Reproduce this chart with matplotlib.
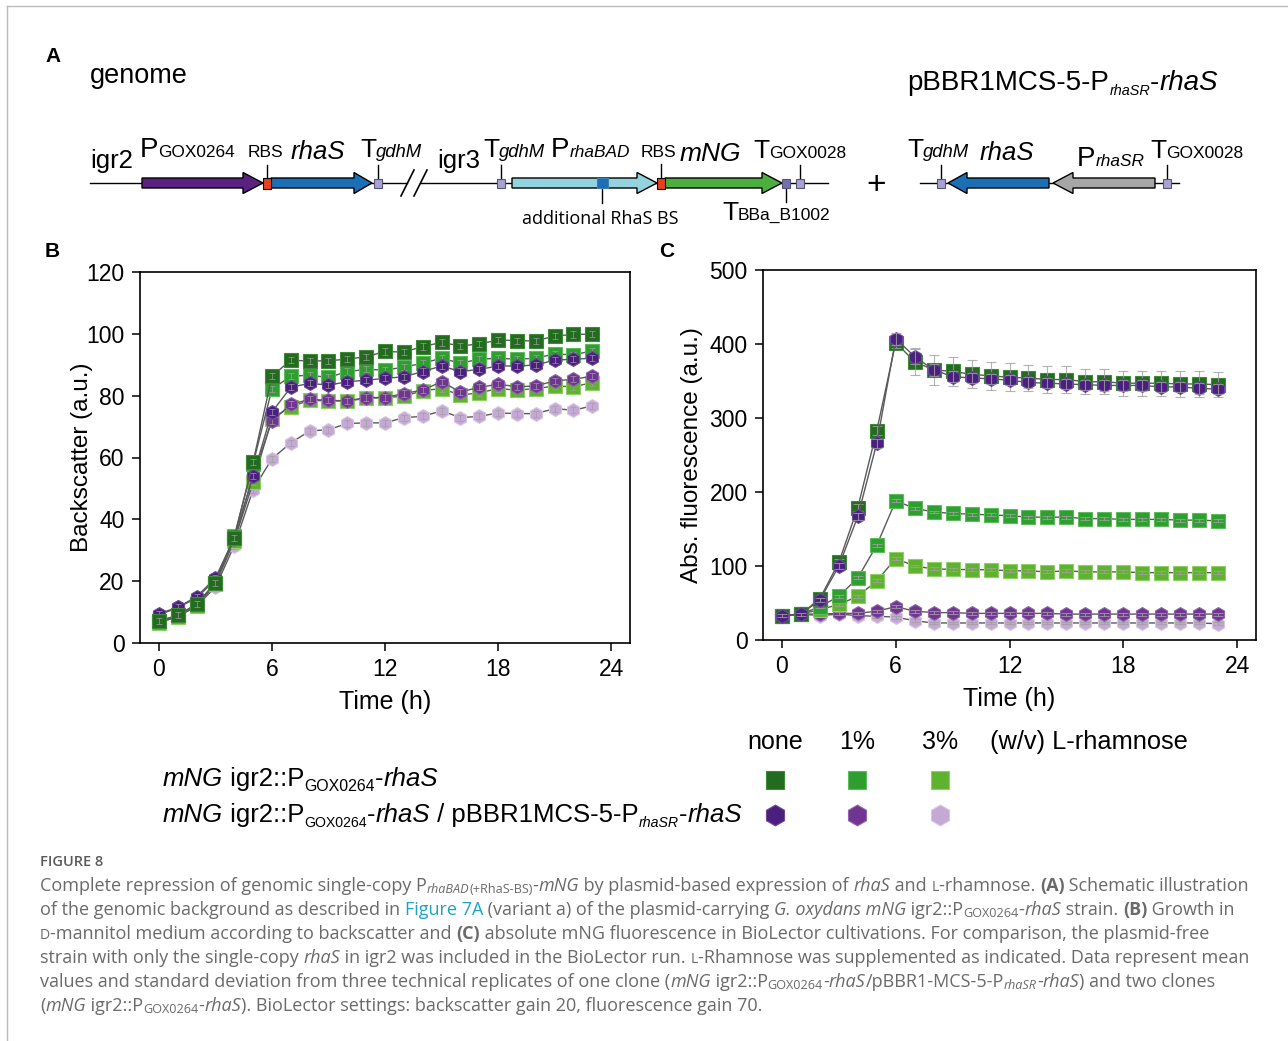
import numpy as np
import matplotlib
matplotlib.use("Agg")
import matplotlib.pyplot as plt
import matplotlib.patches as patches
from matplotlib.font_manager import FontProperties

W, H = 1288, 1041

# 時間軸 (h)
TIME = list(range(24))

# B: backscatter
bs_g0 = [7, 9, 12.5, 19.5, 34, 58.5, 86.3, 91.5, 91.2, 91.3, 91.8, 92.6, 94.3, 94.1, 95.9, 97.2, 96.1, 96.7, 98.0, 97.8, 97.7, 99.3, 99.8, 99.9]
bs_g1 = [7, 9, 12.5, 19.5, 34.5, 58, 82.1, 86.3, 86.6, 85.9, 87.8, 88.5, 88.3, 89.2, 90.5, 92.1, 90.5, 91.8, 92.1, 91.8, 92.1, 93.5, 93.2, 94.5]
bs_g3 = [6.5, 8.5, 12, 19, 33, 52, 72.5, 76.4, 78.5, 78.3, 78.3, 79.1, 79.4, 79.8, 81.6, 82.3, 80.2, 80.9, 82.3, 81.8, 82.3, 83.1, 82.9, 84.2]
bs_p0 = [9.5, 11.5, 15, 21, 34, 54, 74.7, 82.7, 84.0, 83.4, 84.5, 85.0, 85.6, 86.1, 87.8, 89.6, 87.8, 88.5, 89.6, 89.6, 89.9, 91.5, 91.8, 92.1]
bs_p1 = [9, 11.5, 14.5, 20.5, 33.5, 54, 71.8, 77.2, 78.8, 78.5, 78.3, 79.4, 79.4, 80.7, 81.8, 84.5, 81.2, 82.7, 83.7, 82.9, 83.1, 84.8, 85.3, 86.3]
bs_p3 = [7, 8.5, 12, 18, 31.5, 49.6, 59.6, 64.7, 68.6, 69.0, 71.0, 71.2, 71.2, 72.9, 73.3, 75.1, 72.9, 73.3, 74.4, 74.2, 74.2, 75.8, 75.3, 76.7]
bs_err = [1.0] * 24

# C: fluorescence
fl_g0 = [33, 35, 56, 105, 179, 283, 402, 376, 365, 363, 359, 357, 355, 354, 352, 352, 349, 349, 347, 347, 347, 346, 346, 345]
fl_g1 = [33, 35, 45, 59, 84, 128, 188, 178, 173, 171, 170, 169, 168, 166, 166, 166, 164, 164, 163, 163, 163, 162, 162, 161]
fl_g3 = [33, 35, 41, 48, 59, 80, 110, 100, 96, 95.5, 95, 95, 93.5, 93.5, 92, 93.5, 92, 92, 92, 91, 91, 91, 91, 91]
fl_p0 = [33, 35, 54, 100, 167, 266, 407, 383, 365, 356, 354, 353, 351, 348, 347, 346, 345, 344, 344, 344, 342, 342, 340, 339]
fl_p1 = [33, 35, 35, 36, 36, 39, 45, 39, 37, 37, 36, 36, 36, 36, 36, 35, 35, 35, 35, 35, 35, 35, 35, 35]
fl_p3 = [33, 35, 33, 35, 33, 32, 31, 26, 23, 23, 23, 23, 23, 23, 23, 23, 23, 23, 23, 23, 23, 23, 23, 22]
fl_g0_err = [2, 2, 3, 4, 5, 6, 8, 18, 20, 20, 19, 19, 19, 18, 18, 18, 17, 17, 17, 17, 17, 17, 17, 17]
fl_p0_err = [2, 2, 3, 4, 5, 6, 8, 10, 8, 8, 7, 7, 7, 7, 7, 7, 7, 7, 7, 7, 7, 7, 7, 7]
fl_small_err = [2] * 24

X_TICKS = [0, 6, 12, 18, 24]
B_YTICKS = [0, 20, 40, 60, 80, 100, 120]
C_YTICKS = [0, 100, 200, 300, 400, 500]
CONC_LABELS = ["none", "1%", "3%"]

# 色
G_COLS = ["#226b1f", "#2f9e30", "#5fb22f"]
G_EDGE = ["#3d8a38", "#5cbc5a", "#8fd064"]
P_COLS = ["#4a1f7e", "#6f3591", "#c3a9d4"]
P_EDGE = ["#6a4a9a", "#9068aa", "#d8c6e2"]
LINE_C = "#5a5a5a"
ERR_C = "#a0a0a0"

plt.rcParams['font.family'] = ['Liberation Sans', 'DejaVu Sans']

fig = plt.figure(figsize=(W / 100, H / 100), dpi=100)
R = fig.canvas.get_renderer()

# 全体用のピクセル座標 axes
ov = fig.add_axes([0, 0, 1, 1], zorder=5)
ov.set_xlim(0, W)
ov.set_ylim(H, 0)
ov.axis('off')
ov.patch.set_alpha(0)


def fprop(size, flags, family):
    return FontProperties(family=family, size=size,
                          style='italic' if 'i' in flags else 'normal',
                          weight='bold' if 'b' in flags else 'normal')


def twidth(txt, prop):
    w1 = R.get_text_width_height_descent('|' + txt + '|', prop, ismath=False)[0]
    w0 = R.get_text_width_height_descent('||', prop, ismath=False)[0]
    return w1 - w0


# 書式つきテキストを順に並べる
def runs(x, y, parts, size, family='Liberation Sans', color='black', sub_scale=0.68, sub_dy=4,
         ha='left', measure=False):
    items = []
    for p in parts:
        txt, flags = (p, '') if isinstance(p, str) else p
        s = size
        dy = 0
        if 's' in flags:
            s = size * sub_scale
            dy = sub_dy
        if 'k' in flags:  # 小さい大文字
            s = size * 0.78
        if 'm' in flags:  # 同じベースラインの小さい文字
            s = size * sub_scale
        prop = fprop(s, flags, family)
        col = '#1aa3c4' if 'c' in flags else color
        items.append((txt, prop, dy, col))
    total = sum(twidth(t, pr) for t, pr, _, _ in items)
    if measure:
        return total
    if ha == 'right':
        x = x - total
    elif ha == 'center':
        x = x - total / 2
    for txt, prop, dy, col in items:
        ov.text(x, y + dy, txt, fontproperties=prop, color=col, va='baseline', ha='left')
        x += twidth(txt, prop)
    return total


# ---- A: 遺伝子構造 ----
def gene_arrow(x0, x1, y, color, head=20, body=10, headh=21, left=False, edge='black'):
    if not left:
        xs = [x0, x1 - head, x1 - head, x1, x1 - head, x1 - head, x0]
    else:
        xs = [x1, x0 + head, x0 + head, x0, x0 + head, x0 + head, x1]
    ys = [y - body / 2, y - body / 2, y - headh / 2, y, y + headh / 2, y + body / 2, y + body / 2]
    ov.add_patch(patches.Polygon(list(zip(xs, ys)), closed=True, fc=color, ec=edge, lw=1.0, zorder=3))


def box(x0, x1, y, color, h=10, edge='black'):
    ov.add_patch(patches.Rectangle((x0, y - h / 2), x1 - x0, h, fc=color, ec=edge, lw=0.8, zorder=4))


def term(x, y, color="#a7a2d0", up=True):
    ov.add_patch(patches.Rectangle((x - 4, y - 4.5), 8, 9, fc=color, ec='#555577', lw=0.8, zorder=4))
    if up:
        ov.plot([x, x], [y - 4.5, y - 18], color='black', lw=1.0, zorder=2)
    else:
        ov.plot([x, x], [y + 4.5, y + 19], color='black', lw=1.0, zorder=2)


YL = 183
ov.plot([90, 407], [YL, YL], color='black', lw=1.0, zorder=1)
ov.plot([421, 828], [YL, YL], color='black', lw=1.0, zorder=1)
ov.plot([401, 414], [196, 170], color='black', lw=1.2)
ov.plot([414, 427], [196, 170], color='black', lw=1.2)
gene_arrow(142, 263, YL, "#5a2180", head=20)
box(263, 271, YL, "#e8401c", h=11)
ov.plot([267, 267], [165, 178], color='black', lw=1.0)
gene_arrow(271, 372, YL, "#1a6fb5", head=18)
term(378, YL)
term(501, YL)
gene_arrow(512, 657, YL, "#93d3e0", head=20)
box(597, 608, YL, "#1a6fb5", h=10, edge='#3d7fb0')
ov.plot([602, 602], [188, 203], color='black', lw=1.0)
box(657, 665, YL, "#e8401c", h=11)
ov.plot([661, 661], [164, 178], color='black', lw=1.0)
gene_arrow(665, 782, YL, "#4cae3e", head=20)
term(786, YL, color="#7470b0", up=False)
term(800, YL)

ov.plot([920, 1179], [YL, YL], color='black', lw=1.0, zorder=1)
term(941, YL)
gene_arrow(948, 1049, YL, "#1a6fb5", head=19, left=True)
gene_arrow(1053, 1155, YL, "#a6a6a6", head=20, left=True)
term(1167, YL)

ov.text(876, 194, "+", fontsize=24, ha='center', va='baseline')

runs(90, 168, ["igr2"], 18.5)
runs(140, 157, ["P", ("GOX0264", 'm')], 20, sub_scale=0.62)
runs(248, 157, ["RBS"], 12.5)
runs(291, 159, [("rhaS", 'i')], 18.5)
runs(360, 157, ["T", ("gdhM", 'im')], 19, sub_scale=0.7)
runs(437, 168, ["igr3"], 18.5)
runs(483, 157, ["T", ("gdhM", 'im')], 19, sub_scale=0.7)
runs(551, 157, ["P", ("rhaBAD", 'im')], 20, sub_scale=0.62)
runs(641, 157, ["RBS"], 12.5)
runs(680, 161, [("mNG", 'i')], 19)
runs(753, 158, ["T", ("GOX0028", 'm')], 19, sub_scale=0.66)
runs(522, 224, ["additional RhaS BS"], 13, family='Open Sans')
runs(722, 220, ["T", ("BBa_B1002", 'm')], 19, sub_scale=0.66)
runs(907, 157, ["T", ("gdhM", 'im')], 19, sub_scale=0.7)
runs(980, 160, [("rhaS", 'i')], 18.5)
runs(1077, 166, ["P", ("rhaSR", 'ims')], 20, sub_scale=0.62, sub_dy=0)
runs(1150, 158, ["T", ("GOX0028", 'm')], 19, sub_scale=0.66)

runs(90, 83, ["genome"], 19.5)
runs(1218, 90, ["pBBR1MCS-5-P", ("rhaSR", 'is'), "-", ("rhaS", 'i')], 20, sub_scale=0.52, sub_dy=5, ha='right')

ov.text(45, 62, "A", fontsize=15, fontweight='bold', va='baseline')
ov.text(45, 257, "B", fontsize=15, fontweight='bold', va='baseline')
ov.text(659, 257, "C", fontsize=15, fontweight='bold', va='baseline')

# 枠線
ov.plot([7, W], [6, 6], color='#bbbbbb', lw=1.0)
ov.plot([7, 7], [6, H], color='#bbbbbb', lw=1.0)


# ---- B, C: グラフ ----
def style_axes(ax, yticks, ylim, ylabel, pad):
    ax.set_xlim(-1, 25)
    ax.set_ylim(*ylim)
    ax.set_xticks(X_TICKS)
    ax.set_yticks(yticks)
    ax.tick_params(direction='out', length=6, width=1.1, labelsize=16.5, pad=5)
    for s in ax.spines.values():
        s.set_linewidth(1.2)
    ax.set_xlabel("Time (h)", fontsize=18, labelpad=6)
    ax.set_ylabel(ylabel, fontsize=17.5, labelpad=pad)


def series(ax, y, err, marker, fc, ec, z, ew=0.8, cap=3.5):
    ax.plot(TIME, y, color=LINE_C, lw=1.0, zorder=z)
    ax.plot(TIME, y, ls='none', marker=marker, ms=10, mfc=fc, mec=ec, mew=0.8, zorder=z + 0.1)
    ax.errorbar(TIME, y, yerr=err, fmt='none', ecolor=ERR_C, elinewidth=ew, capsize=cap,
                capthick=ew, zorder=z + 0.2, alpha=0.8)


axB = fig.add_axes([140 / W, 1 - 643 / H, 490 / W, 371 / H])
b_series = [(bs_p3, 'h', 2), (bs_g3, 's', 2), (bs_p1, 'h', 1), (bs_g1, 's', 1), (bs_p0, 'h', 0), (bs_g0, 's', 0)]
for i, (y, m, k) in enumerate(b_series):
    if m == 's':
        series(axB, y, bs_err, m, G_COLS[k], G_EDGE[k], 2 + i, ew=0.6, cap=2.5)
    else:
        series(axB, y, bs_err, m, P_COLS[k], P_EDGE[k], 2 + i, ew=0.6, cap=2.5)
style_axes(axB, B_YTICKS, (0, 120), "Backscatter (a.u.)", -5)

axC = fig.add_axes([763 / W, 1 - 640 / H, 493 / W, 370 / H])
c_series = [(fl_p3, fl_small_err, 'h', 2), (fl_p1, fl_small_err, 'h', 1), (fl_g3, fl_small_err, 's', 2),
            (fl_g1, fl_small_err, 's', 1), (fl_g0, fl_g0_err, 's', 0), (fl_p0, fl_p0_err, 'h', 0)]
for i, (y, e, m, k) in enumerate(c_series):
    if m == 's':
        series(axC, y, e, m, G_COLS[k], G_EDGE[k], 2 + i)
    else:
        series(axC, y, e, m, P_COLS[k], P_EDGE[k], 2 + i)
style_axes(axC, C_YTICKS, (0, 500), "Abs. fluorescence (a.u.)", 5)

# ---- 凡例 ----
LEG_X = [775, 857, 940]
for x, lab in zip(LEG_X, CONC_LABELS):
    ov.text(x, 749, lab, fontsize=18, ha='center', va='baseline')
ov.text(990, 749, "(w/v) L-rhamnose", fontsize=18.3, va='baseline')
for k, x in enumerate(LEG_X):
    ov.plot([x], [780], marker='s', ms=13, mfc=G_COLS[k], mec=G_EDGE[k], mew=0.8, ls='none')
    ov.plot([x], [815], marker='h', ms=15, mfc=P_COLS[k], mec=P_EDGE[k], mew=0.8, ls='none')
runs(163, 786, [("mNG", 'i'), " igr2::P", ("GOX0264", 's'), "-", ("rhaS", 'i')], 18.5, sub_scale=0.62, sub_dy=5)
runs(163, 822, [("mNG", 'i'), " igr2::P", ("GOX0264", 's'), "-", ("rhaS", 'i'), " / pBBR1MCS-5-P",
                ("rhaSR", 'is'), "-", ("rhaS", 'i')], 18.5, sub_scale=0.55, sub_dy=5)

# ---- キャプション ----
CAP = [
    ["Complete repression of genomic single-copy P", ("rhaBAD", 'is'), ("(+RhaS-BS)", 's'), "-", ("mNG", 'i'),
     " by plasmid-based expression of ", ("rhaS", 'i'), " and ", ("L", 'k'), "-rhamnose. ", ("(A)", 'b'),
     " Schematic illustration"],
    ["of the genomic background as described in ", ("Figure 7A", 'c'), " (variant a) of the plasmid-carrying ",
     ("G. oxydans mNG", 'i'), " igr2::P", ("GOX0264", 's'), "-", ("rhaS", 'i'), " strain. ", ("(B)", 'b'),
     " Growth in"],
    [("D", 'k'), "-mannitol medium according to backscatter and ", ("(C)", 'b'),
     " absolute mNG fluorescence in BioLector cultivations. For comparison, the plasmid-free"],
    ["strain with only the single-copy ", ("rhaS", 'i'), " in igr2 was included in the BioLector run. ", ("L", 'k'),
     "-Rhamnose was supplemented as indicated. Data represent mean"],
    ["values and standard deviation from three technical replicates of one clone (", ("mNG", 'i'), " igr2::P",
     ("GOX0264", 's'), "-", ("rhaS", 'i'), "/pBBR1-MCS-5-P", ("rhaSR", 'is'), "-", ("rhaS", 'i'),
     ") and two clones"],
    ["(", ("mNG", 'i'), " igr2::P", ("GOX0264", 's'), "-", ("rhaS", 'i'),
     "). BioLector settings: backscatter gain 20, fluorescence gain 70."],
]
cap_size = 12 * 1200 / runs(40, 0, CAP[0], 12, family='Open Sans', measure=True)
ov.text(40, 866, "FIGURE 8", fontsize=10.5, color='#5a5a5a', fontweight='semibold', family='Open Sans',
        va='baseline')
for i, line in enumerate(CAP):
    runs(40, 891 + 24 * i, line, cap_size, family='Open Sans', color='#6a6a6a', sub_scale=0.7, sub_dy=2)

fig.savefig("out.png", dpi=100)
